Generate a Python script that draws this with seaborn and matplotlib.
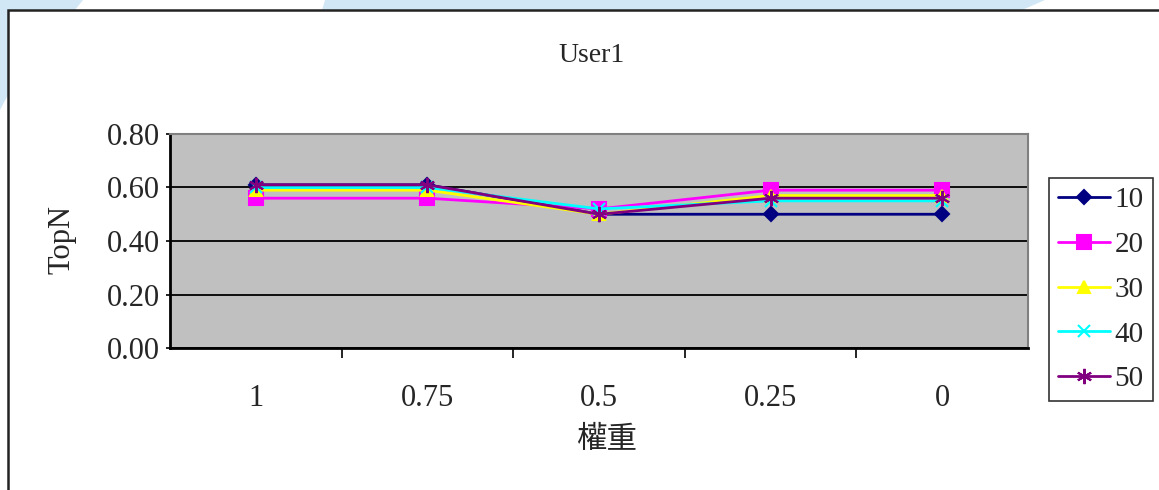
import numpy as np
import pandas as pd
import seaborn as sns
import matplotlib.pyplot as plt
from matplotlib.patches import Polygon, Rectangle

# weight categories on the x axis
weights = ["1", "0.75", "0.5", "0.25", "0"]

# TopN values per series
top10 = [0.61, 0.61, 0.50, 0.50, 0.50]
top20 = [0.56, 0.56, 0.52, 0.59, 0.59]
top30 = [0.59, 0.59, 0.50, 0.57, 0.57]
top40 = [0.60, 0.60, 0.52, 0.55, 0.55]
top50 = [0.61, 0.61, 0.50, 0.56, 0.56]

series_names = ["10", "20", "30", "40", "50"]
series_vals = [top10, top20, top30, top40, top50]

colors = {"10": "#000080", "20": "#FF00FF", "30": "#FFFF00", "40": "#00FFFF", "50": "#800080"}
markers = {"10": "D", "20": "s", "30": "^", "40": "x", "50": (6, 2, 0)}
msizes = {"10": 7.5, "20": 10, "30": 9, "40": 9, "50": 11}

rows = []
for name, vals in zip(series_names, series_vals):
    for i, v in enumerate(vals):
        rows.append({"pos": i, "TopN": v, "series": name})
df = pd.DataFrame(rows)

sns.set_theme(style="white")
plt.rcParams["font.family"] = ["Liberation Serif", "Noto Sans CJK TC", "DejaVu Sans"]

W, H = 1159, 490
fig = plt.figure(figsize=(W / 100, H / 100), dpi=100)

def fx(px):
    return px / W

def fy(py):
    return 1 - py / H

# slide background stripes
blue = "#D2E7F5"
fig.add_artist(Polygon([(fx(0), fy(0)), (fx(83), fy(0)), (fx(75), fy(10)), (fx(8), fy(10)),
                        (fx(8), fy(95)), (fx(0), fy(110))],
                       closed=True, transform=fig.transFigure, color=blue, lw=0, zorder=-3))
fig.add_artist(Polygon([(fx(325), fy(0)), (fx(1045), fy(0)), (fx(1022), fy(10)), (fx(322), fy(10))],
                       closed=True, transform=fig.transFigure, color=blue, lw=0, zorder=-3))
# chart frame
fig.add_artist(Rectangle((fx(8), fy(600)), fx(1300), fy(10) - fy(600), transform=fig.transFigure,
                         facecolor="white", edgecolor="#222222", lw=1.8, zorder=-2))

ax = fig.add_axes([fx(170), fy(348), fx(1028) - fx(170), fy(134) - fy(348)])
ax.set_facecolor("#C0C0C0")

for name in series_names:
    sub = df[df["series"] == name]
    sns.lineplot(data=sub, x="pos", y="TopN", ax=ax, color=colors[name], lw=2,
                 marker=markers[name], markersize=msizes[name], markeredgewidth=1.5,
                 markeredgecolor=colors[name], label=name, zorder=3)

ax.set_xlim(-0.5, 4.5)
ax.set_ylim(0, 0.8)
ax.set_yticks(np.arange(0, 0.81, 0.2))
ax.set_yticklabels([f"{v:.2f}" for v in np.arange(0, 0.81, 0.2)], fontsize=22)
ax.yaxis.grid(True, color="black", lw=1.3)
ax.set_axisbelow(True)
ax.set_xticks(range(len(weights)))
ax.set_xticklabels(weights, fontsize=22)
ax.set_xticks([0.5, 1.5, 2.5, 3.5], minor=True)
ax.tick_params(axis="x", which="major", length=0, pad=26)
ax.tick_params(axis="x", which="minor", length=7, width=1.2, color="black", direction="out", bottom=True)
ax.tick_params(axis="y", length=3, width=1.2, color="black", direction="out", pad=4, left=True)

for s in ["top", "right"]:
    ax.spines[s].set_color("#808080")
    ax.spines[s].set_linewidth(1.5)
for s in ["left", "bottom"]:
    ax.spines[s].set_color("black")
    ax.spines[s].set_linewidth(2)

ax.set_xlabel("")
ax.set_ylabel("")
fig.text(fx(592), fy(55), "User1", ha="center", va="center", fontsize=20)
fig.text(fx(62), fy(240), "TopN", ha="center", va="center", rotation=90, fontsize=22)
fig.text(fx(607), fy(440), "權重", ha="center", va="center", fontsize=22)

leg = ax.legend(loc="upper left", bbox_to_anchor=(fx(1049), fy(178)), bbox_transform=fig.transFigure,
                frameon=True, fancybox=False, fontsize=21, handlelength=1.8, handletextpad=0.15,
                labelspacing=0.63, borderpad=0.3, borderaxespad=0)
leg.get_frame().set_edgecolor("black")
leg.get_frame().set_linewidth(1.2)
leg.get_frame().set_facecolor("white")

fig.savefig("out.png", dpi=100)
